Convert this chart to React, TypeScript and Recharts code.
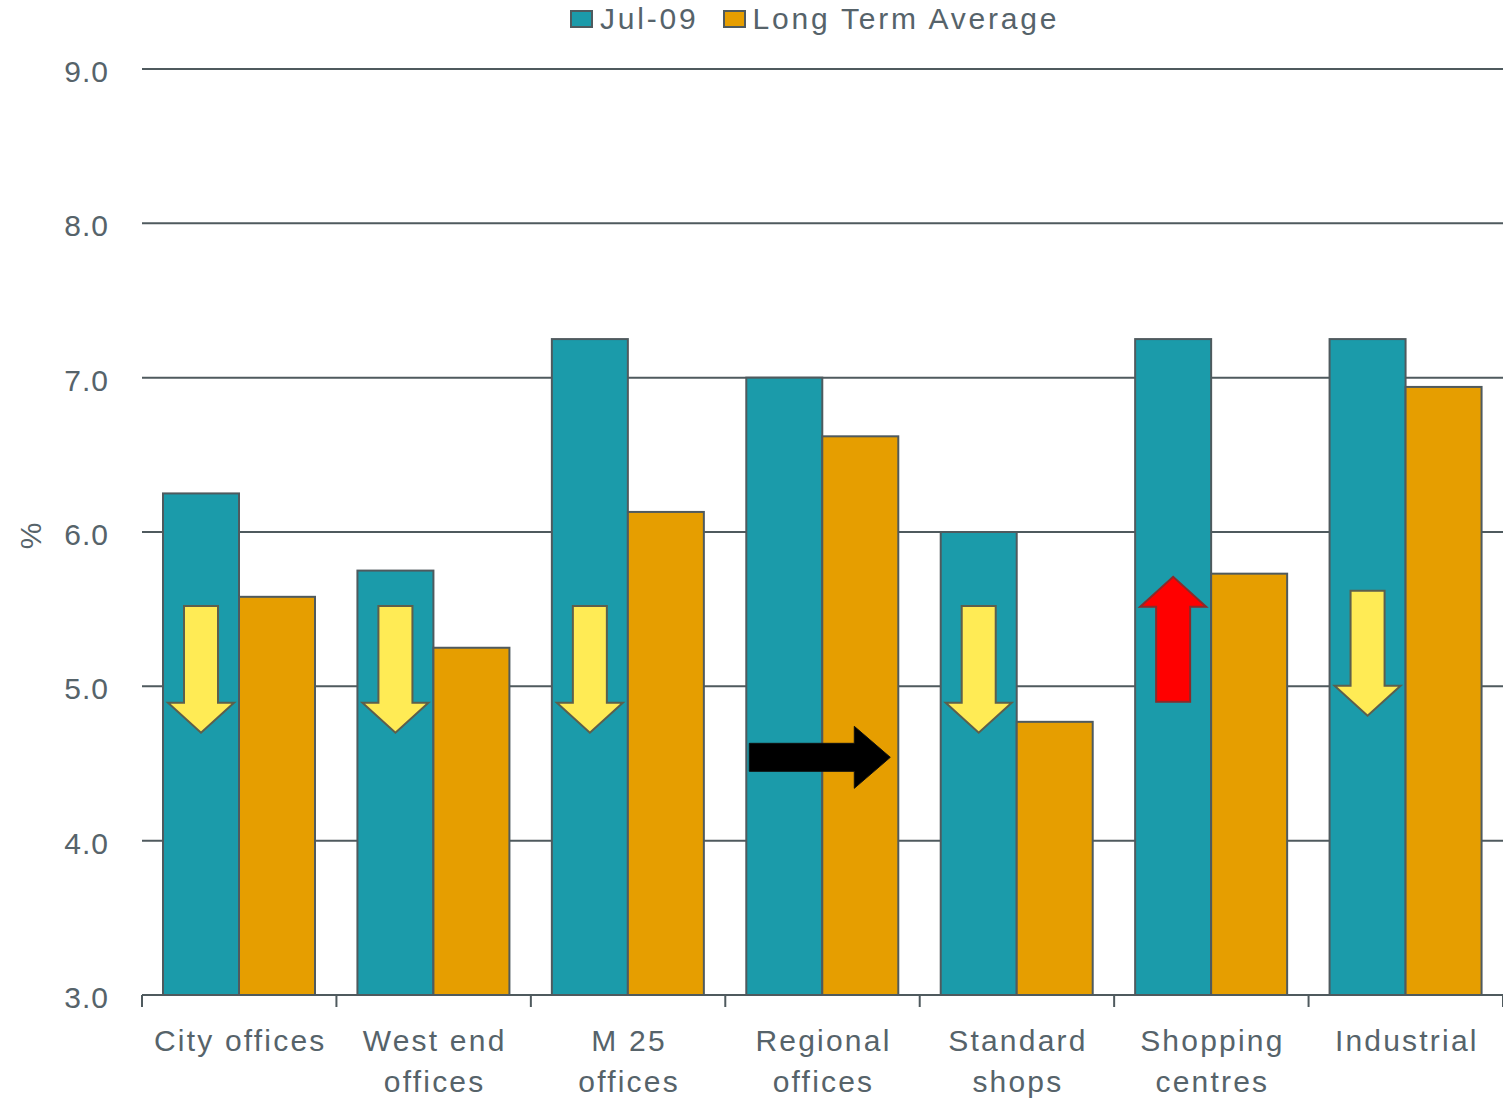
import { Bar, BarChart, CartesianGrid, XAxis, YAxis } from "recharts";

const CATEGORIES = [
  "City offices",
  "West end offices",
  "M 25 offices",
  "Regional offices",
  "Standard shops",
  "Shopping centres",
  "Industrial",
];
const CATEGORY_LINES = [
  ["City offices"],
  ["West end", "offices"],
  ["M 25", "offices"],
  ["Regional", "offices"],
  ["Standard", "shops"],
  ["Shopping", "centres"],
  ["Industrial"],
];
const JUL_09 = [6.25, 5.75, 7.25, 7.0, 6.0, 7.25, 7.25];
const LONG_TERM = [5.58, 5.25, 6.13, 6.62, 4.77, 5.73, 6.94];
const Y_TICKS = [3, 4, 5, 6, 7, 8, 9];

// direction of yield movement, drawn over each pair of bars
const ARROW_DIR = ["down", "down", "down", "right", "down", "up", "down"];
const ARROW_FROM = [5.52, 5.52, 5.52, 4.54, 5.52, 4.9, 5.62];
const ARROW_TO = [4.7, 4.7, 4.7, 4.54, 4.7, 5.71, 4.81];

const SERIES = [
  { key: "jul09", name: "Jul-09", color: "#1b9baa" },
  { key: "longTerm", name: "Long Term Average", color: "#e69e00" },
];

const Y_MIN = 3;
const W = 1503;
const H = 1100;
const MARGIN = { top: 69, right: 0, bottom: 0, left: 0 };
const Y_AXIS_W = 142;
const X_AXIS_H = 105;
const PLOT_W = W - Y_AXIS_W - MARGIN.right;

const INK = "#56636a";
const LINE = "#4f5a5e";
const FONT = "'Liberation Sans', Arial, sans-serif";

const data = CATEGORIES.map((c, i) => ({
  category: c,
  jul09: JUL_09[i],
  longTerm: LONG_TERM[i],
}));

function XTick(props: any) {
  const { x, y, payload, index } = props;
  const band = PLOT_W / CATEGORIES.length;
  const lines = CATEGORY_LINES[payload.index ?? index] ?? [payload.value];
  return (
    <g>
      <line x1={x - band / 2} x2={x - band / 2} y1={y} y2={y + 12} stroke={LINE} strokeWidth={2} />
      {index === CATEGORIES.length - 1 && (
        <line x1={x + band / 2} x2={x + band / 2} y1={y} y2={y + 12} stroke={LINE} strokeWidth={2} />
      )}
      {lines.map((t: string, k: number) => (
        <text
          key={k}
          x={x + 1}
          y={y + 56 + k * 41}
          textAnchor="middle"
          fill={INK}
          fontSize={30}
          fontFamily={FONT}
          letterSpacing={2.2}
        >
          {t}
        </text>
      ))}
    </g>
  );
}

function YTick(props: any) {
  const { x, y, payload } = props;
  return (
    <text x={x - 33} y={y + 13} textAnchor="end" fill={INK} fontSize={30} fontFamily={FONT} letterSpacing={1}>
      {payload.value.toFixed(1)}
    </text>
  );
}

function arrowPath(dir: string, cx: number, a: number, b: number, shaft: number, head: number, headLen: number) {
  // a -> b along the arrow axis, cx is the position across it
  const s = shaft / 2;
  const h = head / 2;
  const sign = b > a ? 1 : -1;
  const base = b - sign * headLen;
  if (dir === "right") {
    return `M${a},${cx - s} L${base},${cx - s} L${base},${cx - h} L${b},${cx} L${base},${cx + h} L${base},${cx + s} L${a},${cx + s} Z`;
  }
  return `M${cx - s},${a} L${cx - s},${base} L${cx - h},${base} L${cx},${b} L${cx + h},${base} L${cx + s},${base} L${cx + s},${a} Z`;
}

// Orange bar plus the movement arrow on top of its pair
function LongTermShape(props: any) {
  const { x, y, width, height, fill, index, payload } = props;
  const value = payload.longTerm;
  const per = height / (value - Y_MIN);
  const yAt = (v: number) => y + height - (v - Y_MIN) * per;
  const dir = ARROW_DIR[index];
  const tealX = x - width;
  let arrow = null;
  if (dir === "right") {
    const cy = yAt(ARROW_FROM[index]);
    arrow = (
      <path d={arrowPath(dir, cy, tealX + 3, x + width - 8, 28, 62, 36)} fill="#000" stroke="#111" strokeWidth={1} />
    );
  } else if (dir) {
    const cx = tealX + width / 2;
    const up = dir === "up";
    arrow = (
      <path
        d={arrowPath(dir, cx, yAt(ARROW_FROM[index]), yAt(ARROW_TO[index]), 34, 66, 30)}
        fill={up ? "#ff0000" : "#ffeb55"}
        stroke={up ? "#8a2a2a" : "#5d5f4c"}
        strokeWidth={2}
      />
    );
  }
  return (
    <g>
      <rect x={x} y={y} width={width} height={height} fill={fill} stroke={LINE} strokeWidth={2} />
      {arrow}
    </g>
  );
}

function TealShape(props: any) {
  const { x, y, width, height, fill } = props;
  return <rect x={x} y={y} width={width} height={height} fill={fill} stroke={LINE} strokeWidth={2} />;
}

export default function App() {
  return (
    <div style={{ position: "absolute", left: 0, top: 0, width: W, height: H, background: "#fff" }}>
      <div
        style={{
          position: "absolute",
          top: 2,
          left: 570,
          display: "flex",
          alignItems: "center",
          fontFamily: FONT,
          fontSize: 30,
          letterSpacing: 2.8,
          color: INK,
          whiteSpace: "nowrap",
        }}
      >
        {SERIES.map((s, i) => (
          <span key={s.key} style={{ display: "flex", alignItems: "center", marginRight: i === 0 ? 24 : 0 }}>
            <span
              style={{
                display: "inline-block",
                width: 19,
                height: 14,
                background: s.color,
                border: `2px solid ${LINE}`,
                marginRight: 7,
              }}
            />
            {s.name}
          </span>
        ))}
      </div>
      <BarChart width={W} height={H} data={data} margin={MARGIN} barCategoryGap={21} barGap={0}>
        <CartesianGrid vertical={false} stroke={LINE} strokeWidth={2} />
        <XAxis
          dataKey="category"
          height={X_AXIS_H}
          tickLine={false}
          tickSize={0}
          tickMargin={0}
          axisLine={{ stroke: LINE, strokeWidth: 2 }}
          tick={<XTick />}
          interval={0}
        />
        <YAxis
          domain={[3, 9]}
          ticks={Y_TICKS}
          width={Y_AXIS_W}
          axisLine={false}
          tickLine={false}
          tickSize={0}
          tickMargin={0}
          tick={<YTick />}
          label={{
            value: "%",
            angle: -90,
            position: "insideLeft",
            offset: 30,
            dy: 4,
            style: { fill: INK, fontSize: 30, fontFamily: FONT, textAnchor: "middle" },
          }}
        />
        <Bar dataKey="jul09" name="Jul-09" fill={SERIES[0].color} shape={<TealShape />} isAnimationActive={false} />
        <Bar
          dataKey="longTerm"
          name="Long Term Average"
          fill={SERIES[1].color}
          shape={<LongTermShape />}
          isAnimationActive={false}
        />
      </BarChart>
    </div>
  );
}
